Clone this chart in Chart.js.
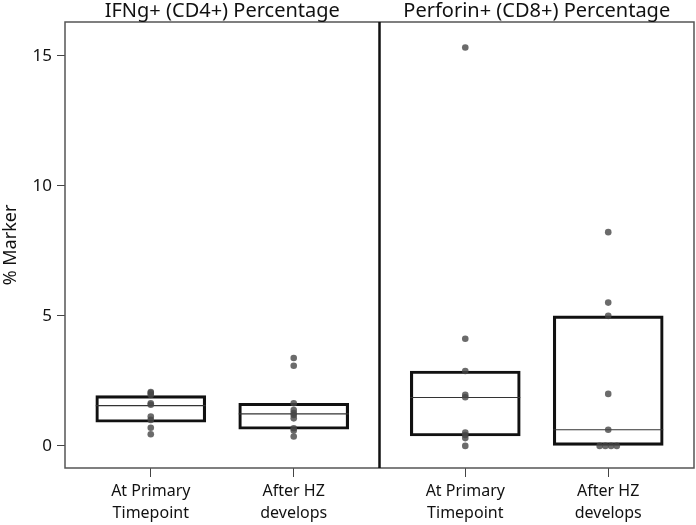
<!DOCTYPE html>
<html>
<head>
<meta charset="utf-8">
<script src="https://cdn.jsdelivr.net/npm/chart.js@4"></script>
<style>
  html, body { margin: 0; padding: 0; background: #fff; }
  #wrap { width: 696px; height: 525px; position: relative; }
</style>
</head>
<body>
<div id="wrap"><canvas id="c"></canvas></div>
<script>
// панели и категории
const panelTitles = ["IFNg+ (CD4+) Percentage", "Perforin+ (CD8+) Percentage"];
const categoryLabels = [["At Primary", "Timepoint"], ["After HZ", "develops"]];
const yTicks = [0, 5, 10, 15];

// позиции групп на оси x (панель 1: 1, 2; панель 2: 3.2, 4.2; граница панелей 2.6)
const groupX = [1, 2, 3.2, 4.2];

// точки (значения, %)
const ifngPrimary = [2.07, 2.03, 1.96, 1.64, 1.58, 1.13, 1.0, 0.70, 0.45];
const ifngAfter = [3.38, 3.08, 1.64, 1.38, 1.26, 1.19, 1.06, 0.68, 0.59, 0.36];
const perfPrimary = [15.32, 4.12, 2.88, 1.96, 1.87, 0.51, 0.42, 0.30, 0.0];
const perfAfter = [8.22, 5.51, 5.0, 2.0, 0.62, 0, 0, 0, 0];

// коробки: Q1, медиана, Q3
const boxQ1 = [0.91, 0.64, 0.38, 0.0];
const boxMedian = [1.55, 1.23, 1.86, 0.62];
const boxQ3 = [1.93, 1.64, 2.88, 5.0];

const groups = [ifngPrimary, ifngAfter, perfPrimary, perfAfter];

// одинаковые значения раздвигаем по горизонтали
function dotsFor(values, cx) {
  const counts = {};
  values.forEach(v => { counts[v] = (counts[v] || 0) + 1; });
  const seen = {};
  return values.map(v => {
    const n = counts[v];
    const k = seen[v] || 0;
    seen[v] = k + 1;
    return { x: cx + (k - (n - 1) / 2) * 0.04, y: v };
  });
}

const dots = [];
groups.forEach((g, i) => dots.push(...dotsFor(g, groupX[i])));

const FONT = "'Noto Sans', 'Open Sans', sans-serif";

// рамки панелей и заголовки
const panelPlugin = {
  id: "panels",
  afterDraw(chart) {
    const { ctx, chartArea: a, scales } = chart;
    const xs = scales.x;
    const divX = xs.getPixelForValue(2.6);
    ctx.save();
    ctx.strokeStyle = "#555";
    ctx.lineWidth = 1.5;
    ctx.strokeRect(a.left, a.top, a.right - a.left, a.bottom - a.top);
    ctx.strokeStyle = "#111";
    ctx.lineWidth = 2.5;
    ctx.beginPath();
    ctx.moveTo(divX, a.top);
    ctx.lineTo(divX, a.bottom);
    ctx.stroke();
    ctx.fillStyle = "#111";
    ctx.font = "20px " + FONT;
    ctx.textAlign = "center";
    ctx.textBaseline = "bottom";
    ctx.fillText(panelTitles[0], (a.left + divX) / 2, a.top - 1);
    ctx.fillText(panelTitles[1], (divX + a.right) / 2, a.top - 1);
    ctx.restore();
  },
};

new Chart(document.getElementById("c"), {
  type: "scatter",
  data: {
    datasets: [
      {
        label: "points",
        data: dots,
        pointRadius: 3.3,
        pointBackgroundColor: "rgba(70,70,70,0.8)",
        pointBorderWidth: 0,
      },
      {
        label: "median",
        data: groupX.map((x, i) => ({ x, y: boxMedian[i] })),
        pointStyle: "line",
        pointRadius: 55,
        borderColor: "#333",
        pointBorderWidth: 1.2,
      },
      {
        type: "bar",
        label: "box",
        data: groupX.map((x, i) => ({ x, y: [boxQ1[i], boxQ3[i]] })),
        backgroundColor: "rgba(0,0,0,0)",
        borderColor: "#111",
        borderWidth: 2.5,
        borderSkipped: false,
        barThickness: 110,
      },
    ],
  },
  options: {
    responsive: true,
    maintainAspectRatio: false,
    animation: false,
    layout: { autoPadding: false, padding: { top: 22, right: 2, left: 0, bottom: 0 } },
    plugins: {
      legend: { display: false },
      tooltip: { enabled: false },
    },
    scales: {
      x: {
        type: "linear",
        min: 0.4,
        max: 4.8,
        offset: false,
        afterBuildTicks: (s) => { s.ticks = groupX.map(v => ({ value: v })); },
        afterFit: (s) => { s.height = 57; },
        grid: { offset: false, drawOnChartArea: false, drawTicks: true, tickLength: 9, color: "#444" },
        border: { display: false },
        ticks: {
          color: "#111",
          font: { family: FONT, size: 16, lineHeight: 1.4 },
          padding: 3,
          maxRotation: 0,
          autoSkip: false,
          callback: (v) => {
            const i = groupX.indexOf(v);
            return i < 0 ? "" : categoryLabels[i % 2];
          },
        },
      },
      y: {
        min: -0.85,
        max: 16.3,
        afterBuildTicks: (s) => { s.ticks = yTicks.map(v => ({ value: v })); },
        afterFit: (s) => { s.width = 65; },
        grid: { drawOnChartArea: false, drawTicks: true, tickLength: 8, color: "#444" },
        border: { display: false },
        title: {
          display: true,
          text: "% Marker",
          color: "#111",
          font: { family: FONT, size: 18 },
          padding: { top: 0, bottom: 0 },
        },
        ticks: {
          color: "#111",
          font: { family: FONT, size: 17 },
          padding: 5,
        },
      },
    },
  },
  plugins: [panelPlugin],
});
</script>
</body>
</html>
